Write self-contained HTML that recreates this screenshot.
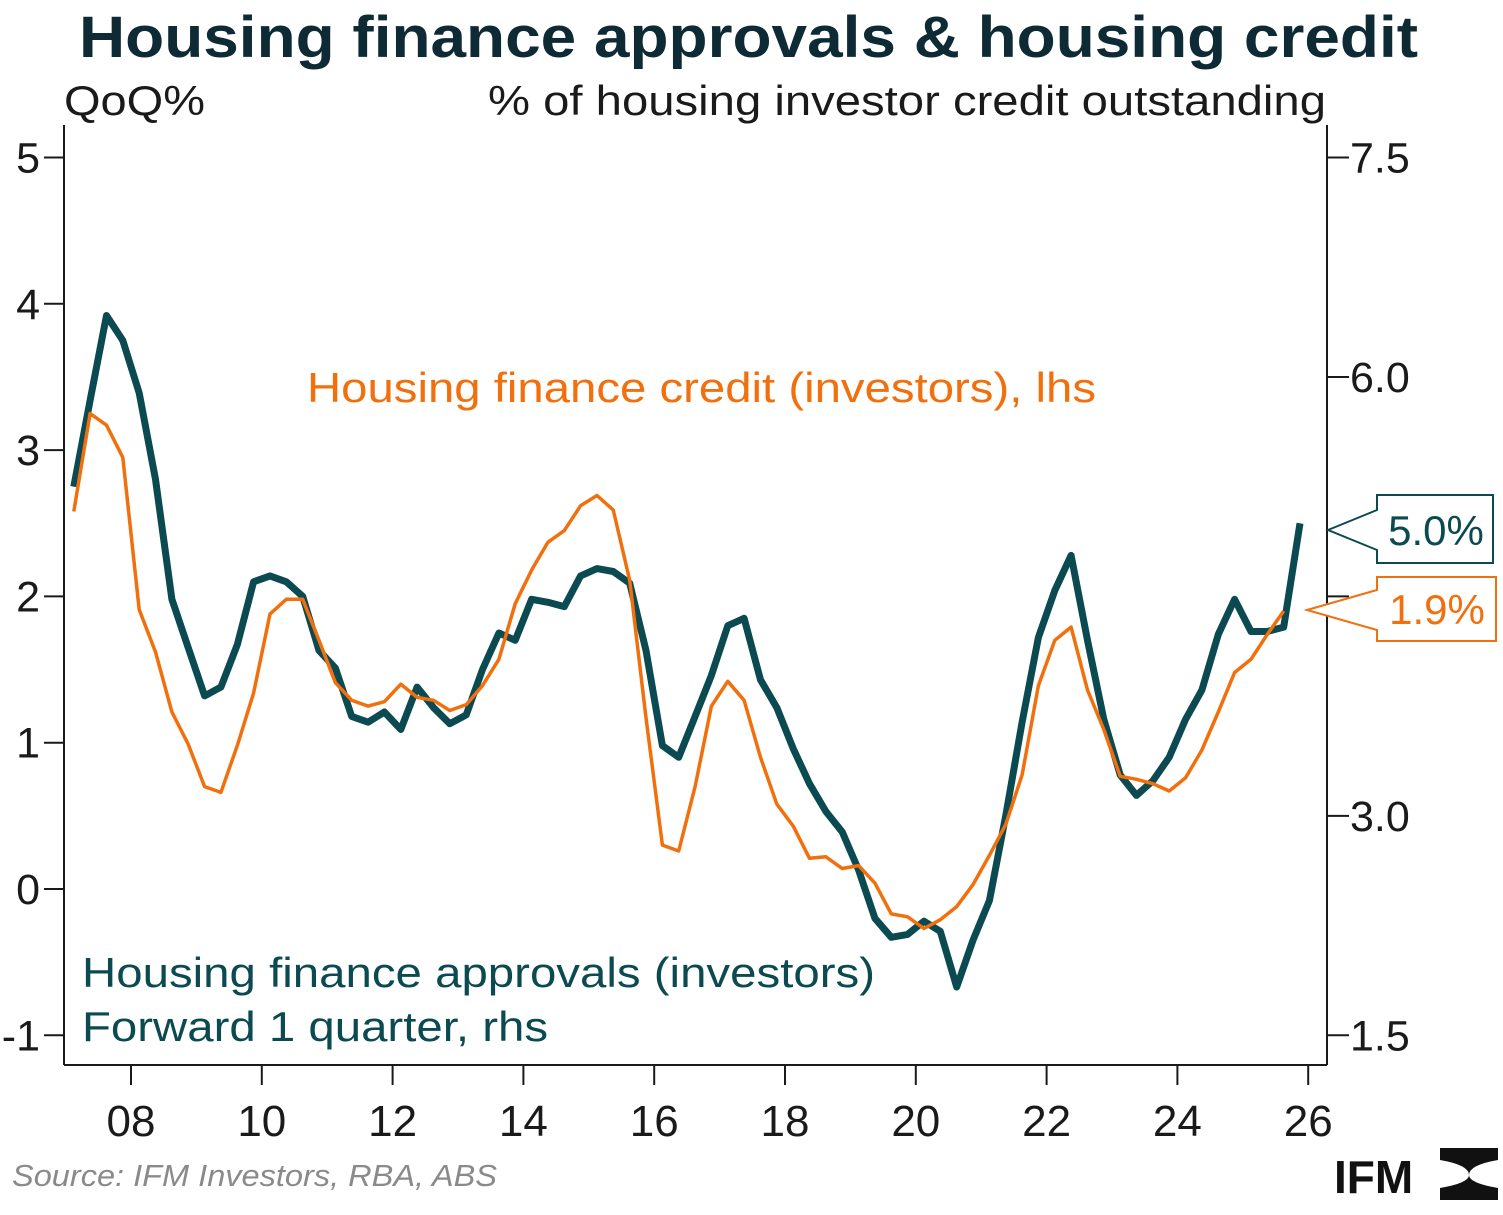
<!DOCTYPE html>
<html><head><meta charset="utf-8"><style>
body{margin:0;background:#fff;}
svg text{font-family:"Liberation Sans",Arial,sans-serif;}
</style></head><body>
<svg id="chart" width="1503" height="1210" viewBox="0 0 1503 1210" xmlns="http://www.w3.org/2000/svg">
<text x="79" y="57" font-size="58" font-weight="bold" fill="#0e2a35" textLength="1339" lengthAdjust="spacingAndGlyphs">Housing finance approvals &amp; housing credit</text>
<text x="64" y="115" font-size="42" fill="#1a1a1a" textLength="141" lengthAdjust="spacingAndGlyphs">QoQ%</text>
<text x="488" y="115" font-size="42" fill="#1a1a1a" textLength="838" lengthAdjust="spacingAndGlyphs">% of housing investor credit outstanding</text>
<g id="axes"></g>
<g id="series"></g>
<text x="307" y="402" font-size="42" fill="#f26f0d" textLength="789" lengthAdjust="spacingAndGlyphs">Housing finance credit (investors), lhs</text>
<text x="82" y="987" font-size="42" fill="#0b4a50" textLength="793" lengthAdjust="spacingAndGlyphs">Housing finance approvals (investors)</text>
<text x="82" y="1041" font-size="42" fill="#0b4a50" textLength="466" lengthAdjust="spacingAndGlyphs">Forward 1 quarter, rhs</text>
<g>
<path d="M1328,530 L1377,510 L1377,495 L1493,495 L1493,563 L1377,563 L1377,550 Z" fill="#fff" stroke="#0b4a50" stroke-width="2"/>
<text x="1436" y="545" text-anchor="middle" font-size="42" fill="#0b4a50">5.0%</text>
</g>
<g>
<path d="M1307,610 L1377,590 L1377,577 L1496,577 L1496,641 L1377,641 L1377,630 Z" fill="#fff" stroke="#f26f0d" stroke-width="2"/>
<text x="1437" y="624" text-anchor="middle" font-size="42" fill="#f26f0d">1.9%</text>
</g>
<text x="12" y="1186" font-size="31" font-style="italic" fill="#8a8a8a" textLength="485" lengthAdjust="spacingAndGlyphs">Source: IFM Investors, RBA, ABS</text>
<g>
<text x="1334" y="1193" font-size="46" font-weight="bold" fill="#111">IFM</text>
<path d="M1440,1148 L1498,1148 L1498,1160 Q1469,1165 1469,1175 Q1469,1165 1440,1160 Z" fill="#111"/>
<path d="M1440,1200 L1498,1200 L1498,1188 Q1469,1183 1469,1175 Q1469,1183 1440,1188 Z" fill="#111"/>
</g>
</svg>
<script>
const yearTicks=[2008,2010,2012,2014,2016,2018,2020,2022,2024,2026];
const yearLabels=["08","10","12","14","16","18","20","22","24","26"];
const leftTicks=[5,4,3,2,1,0,-1];
const rightTicks=[7.5,6.0,4.5,3.0,1.5];
const rightTickLabels=["7.5","6.0","","3.0","1.5"];
const startYear=2007.125;
const approvalsRhs=[5.25,5.84,6.42,6.25,5.89,5.3,4.48,4.15,3.82,3.88,4.17,4.6,4.64,4.6,4.5,4.13,4.01,3.68,3.64,3.71,3.59,3.88,3.74,3.63,3.69,4.0,4.25,4.2,4.48,4.46,4.43,4.64,4.69,4.67,4.59,4.13,3.48,3.4,3.68,3.96,4.3,4.35,3.93,3.74,3.46,3.22,3.03,2.89,2.63,2.3,2.17,2.19,2.28,2.21,1.83,2.15,2.42,3.0,3.64,4.22,4.54,4.78,4.2,3.66,3.28,3.14,3.24,3.4,3.66,3.86,4.24,4.48,4.26,4.26,4.29,5.0];
const creditLhs=[2.58,3.25,3.17,2.95,1.91,1.62,1.21,0.99,0.7,0.66,0.98,1.34,1.88,1.98,1.98,1.7,1.41,1.29,1.25,1.28,1.4,1.31,1.29,1.22,1.26,1.39,1.57,1.95,2.18,2.37,2.45,2.62,2.69,2.59,2.11,1.17,0.3,0.26,0.7,1.25,1.42,1.29,0.9,0.58,0.43,0.21,0.22,0.14,0.16,0.04,-0.17,-0.19,-0.27,-0.21,-0.12,0.03,0.23,0.44,0.78,1.39,1.7,1.79,1.36,1.09,0.77,0.75,0.72,0.67,0.76,0.95,1.21,1.48,1.57,1.74,1.9];
const NS="http://www.w3.org/2000/svg";
const xS=y=>131+(y-2008)*65.4;
const yL=v=>889-v*146.3;
const yR=v=>yL(v-2.5);
function mk(tag,attrs,parent){const e=document.createElementNS(NS,tag);for(const k in attrs)e.setAttribute(k,attrs[k]);parent.appendChild(e);return e;}
const axes=document.getElementById('axes');
let e;
e=mk('line',{x1:64,y1:125,x2:64,y2:1065,stroke:'#1a1a1a','stroke-width':2},axes);


e=mk('line',{x1:1327,y1:125,x2:1327,y2:1065,stroke:'#1a1a1a','stroke-width':2},axes);


e=mk('line',{x1:64,y1:1065,x2:1327,y2:1065,stroke:'#1a1a1a','stroke-width':2},axes);


leftTicks.forEach(v=>{
 const y=yL(v);
 e=mk('line',{x1:44,y1:y,x2:64,y2:y,stroke:'#1a1a1a','stroke-width':2},axes);
 
 
 e=mk('text',{x:40,y:y+15,'text-anchor':'end','font-size':43,fill:'#1a1a1a'},axes);
 e.textContent=String(v);
 
 
});
rightTicks.forEach((v,i)=>{
 const y=yR(v);
 e=mk('line',{x1:1327,y1:y,x2:1349,y2:y,stroke:'#1a1a1a','stroke-width':2},axes);
 
 
 if(rightTickLabels[i]){
 e=mk('text',{x:1350,y:y+15,'font-size':43,fill:'#1a1a1a'},axes);
 e.textContent=rightTickLabels[i];
 
 }
});
yearTicks.forEach((yr,i)=>{
 const x=xS(yr);
 e=mk('line',{x1:x,y1:1065,x2:x,y2:1085,stroke:'#1a1a1a','stroke-width':2},axes);
 
 
 e=mk('text',{x:x,y:1136,'text-anchor':'middle','font-size':44,fill:'#1a1a1a'},axes);
 e.textContent=yearLabels[i];
 
 
});
const ser=document.getElementById('series');
const dPts=approvalsRhs.map((v,i)=>xS(startYear+i*0.25).toFixed(1)+','+yR(v).toFixed(1)).join(' ');
e=mk('polyline',{points:dPts,fill:'none',stroke:'#0b4a50','stroke-width':7,'stroke-linejoin':'round'},ser);


const oPts=creditLhs.map((v,i)=>xS(startYear+i*0.25).toFixed(1)+','+yL(v).toFixed(1)).join(' ');
e=mk('polyline',{points:oPts,fill:'none',stroke:'#f26f0d','stroke-width':3.5,'stroke-linejoin':'round'},ser);


</script>
</body></html>
